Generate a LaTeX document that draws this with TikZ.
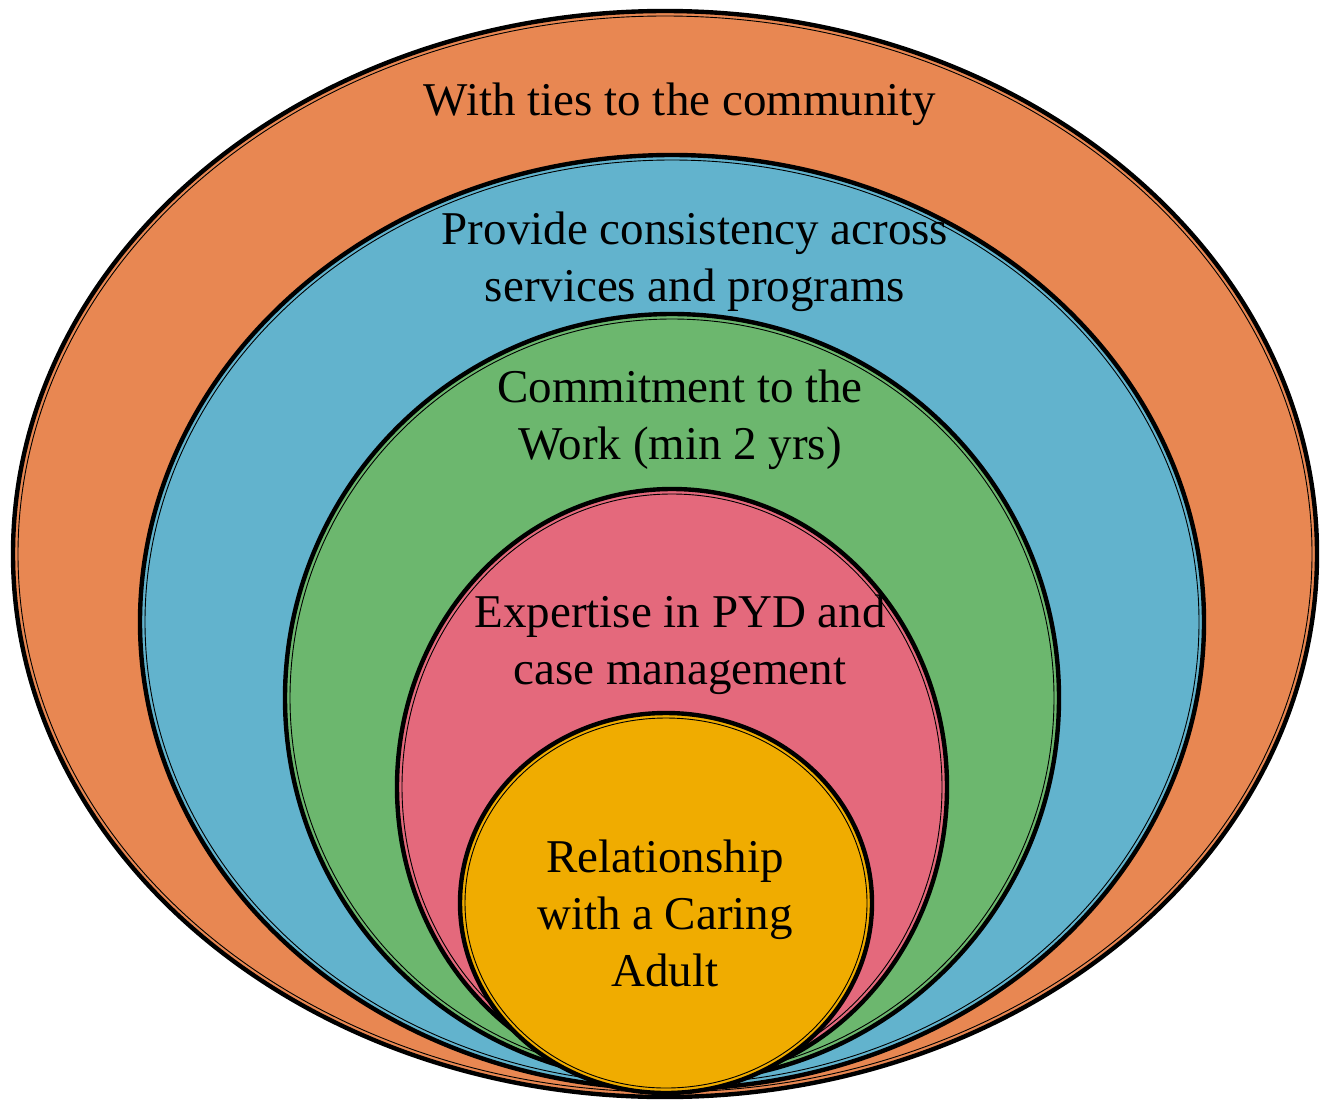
\documentclass[tikz,border=0pt]{standalone}
\usepackage{fontspec}
\setmainfont{Liberation Serif}
\definecolor{corange}{HTML}{E88752}
\definecolor{cblue}{HTML}{62B3CD}
\definecolor{cgreen}{HTML}{6CB76E}
\definecolor{cpink}{HTML}{E4697C}
\definecolor{cyellow}{HTML}{F0AC00}
\tikzset{
  ring/.style={draw=black, line width=2.2pt},
  inner/.style={draw=black, line width=0.45pt},
  lbl/.style={align=center, font=\fontsize{23.5}{28.5}\selectfont, text=black, inner sep=0pt}
}
\begin{document}
\begin{tikzpicture}[x=0.5pt,y=-0.5pt]
\useasboundingbox (0,0) rectangle (1322,1103);
% orange
\path[ring, fill=corange] (665,554) ellipse [x radius=652, y radius=543];
\path[inner] (665,554) ellipse [x radius=647, y radius=538];
% blue
\path[ring, fill=cblue] (672,622) ellipse [x radius=532, y radius=467];
\path[inner] (672,622) ellipse [x radius=527, y radius=462];
% green
\path[ring, fill=cgreen] (672,698) ellipse [x radius=387, y radius=384];
\path[inner] (672,698) ellipse [x radius=382, y radius=379];
% pink
\path[ring, fill=cpink] (672,787) ellipse [x radius=275, y radius=298];
\path[inner] (672,787) ellipse [x radius=270, y radius=293];
% yellow
\path[ring, fill=cyellow] (666,903) ellipse [x radius=206, y radius=190];
\path[inner] (666,903) ellipse [x radius=201, y radius=185];
% labels
\node[lbl] (t1) at (680,104) {With ties to the community};
\node[lbl] (t2) at (695,262) {Provide consistency across\\services and programs};
\node[lbl] (t3) at (680,420) {Commitment to the\\Work (min 2 yrs)};
\node[lbl] (t4) at (680,645) {Expertise in PYD and\\case management};
\node[lbl] (t5) at (665,913) {Relationship\\with a Caring\\Adult};
\end{tikzpicture}
\end{document}
